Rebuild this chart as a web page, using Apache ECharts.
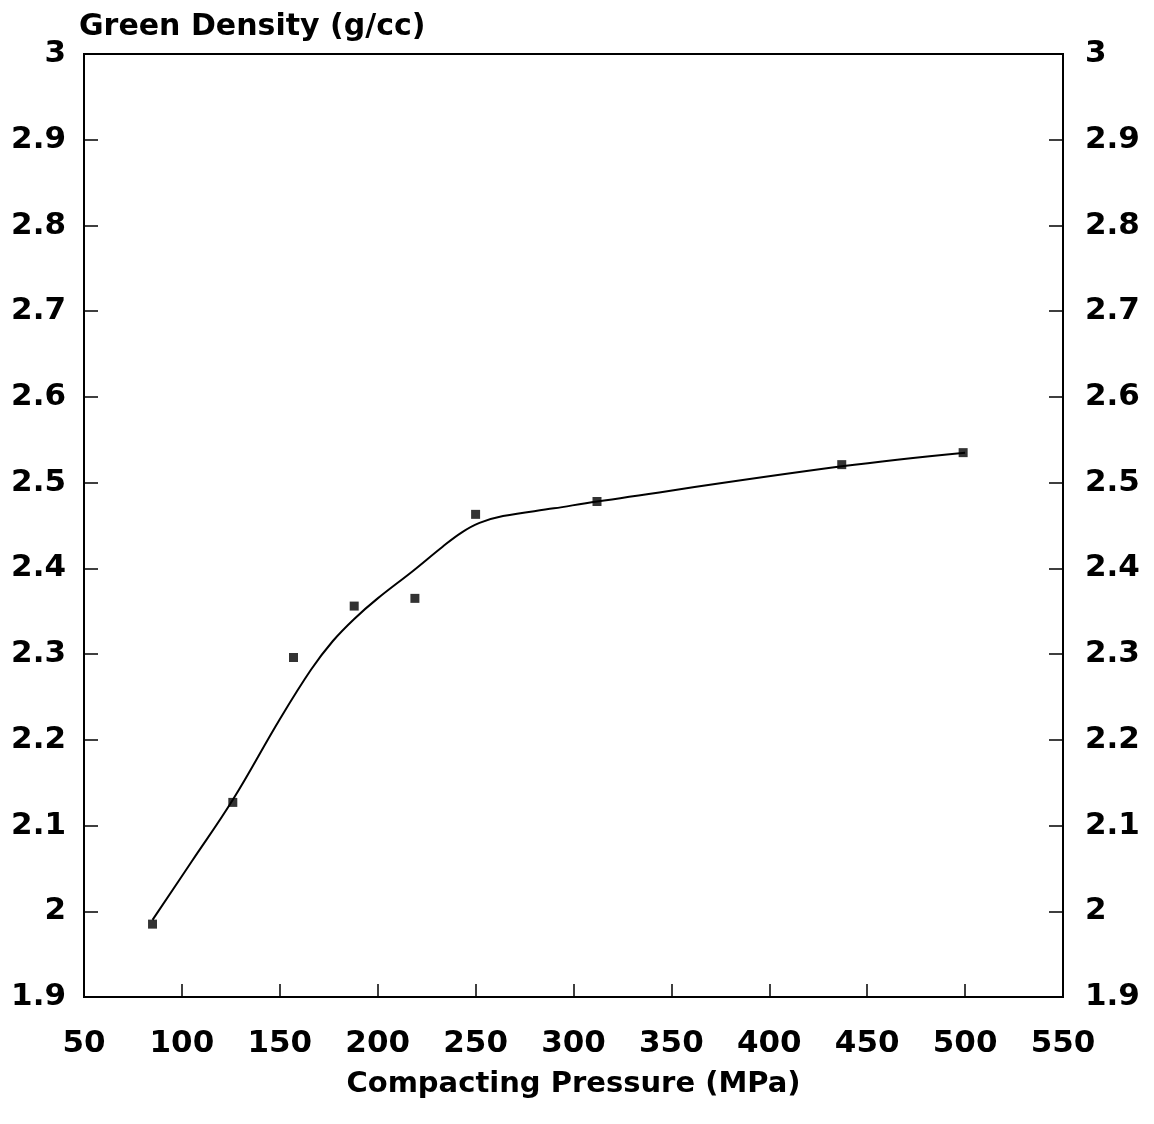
<!DOCTYPE html>
<html>
<head>
<meta charset="utf-8">
<script src="https://cdn.jsdelivr.net/npm/echarts@6/dist/echarts.min.js"></script>
<style>
html,body{margin:0;padding:0;background:#fff;}
#chart{width:1154px;height:1124px;}
</style>
</head>
<body>
<div id="chart"></div>
<script>
// Measured data points
const pressure = [85, 126, 157, 188, 219, 250, 312, 437, 499];
const density = [1.985, 2.127, 2.296, 2.356, 2.365, 2.463, 2.478, 2.521, 2.535];
// Fitted curve
const fitPressure = [85, 105, 126, 150, 166, 177, 188, 200, 218, 233, 243, 252, 264, 290, 312, 437, 500];
const fitDensity = [1.99, 2.058, 2.13, 2.224, 2.282, 2.315, 2.341, 2.365, 2.397, 2.425, 2.442, 2.453, 2.461, 2.470, 2.478, 2.519, 2.535];

const xTitle = 'Compacting Pressure (MPa)';
const yTitle = 'Green Density (g/cc)';

const chart = echarts.init(document.getElementById('chart'));
const FONT = 'DejaVu Sans';
const tickLabel = {color: '#000', fontFamily: FONT, fontWeight: 'bold', fontSize: 31};
const fmtY = v => String(+v.toFixed(1));

const yCommon = {
  type: 'value', min: 1.9, max: 3, interval: 0.1,
  axisLine: {show: true, lineStyle: {color: '#000', width: 2}},
  axisTick: {show: true, inside: true, length: 14, lineStyle: {color: '#000', width: 1.5}},
  splitLine: {show: false},
};

chart.setOption({
  backgroundColor: '#fff',
  animation: false,
  grid: {left: 84, right: 91, top: 54, bottom: 127, outerBoundsMode: 'none',
         show: true, borderColor: '#000', borderWidth: 2},
  xAxis: {
    type: 'value', min: 50, max: 550, interval: 50,
    name: xTitle, nameLocation: 'middle', nameGap: 73,
    nameTextStyle: {color: '#000', fontFamily: FONT, fontWeight: 'bold', fontSize: 29},
    axisLine: {show: true, lineStyle: {color: '#000', width: 2}},
    axisTick: {show: true, inside: true, length: 13, lineStyle: {color: '#000', width: 1.5}},
    axisLabel: Object.assign({margin: 31}, tickLabel),
    splitLine: {show: false}
  },
  yAxis: [
    Object.assign({}, yCommon, {
      position: 'left',
      name: yTitle, nameLocation: 'end', nameGap: 12,
      nameTextStyle: {color: '#000', fontFamily: FONT, fontWeight: 'bold', fontSize: 30, align: 'left', padding: [0, 0, 0, -5]},
      axisLabel: Object.assign({margin: 18, formatter: fmtY}, tickLabel)
    }),
    Object.assign({}, yCommon, {
      position: 'right',
      axisLabel: Object.assign({margin: 22, formatter: fmtY}, tickLabel)
    })
  ],
  series: [
    {
      type: 'line', name: 'fit',
      data: fitPressure.map((p, i) => [p, fitDensity[i]]),
      smooth: 0.4, showSymbol: false,
      lineStyle: {color: '#000', width: 2}
    },
    {
      type: 'scatter', name: 'measured',
      data: pressure.map((p, i) => [p, density[i]]),
      symbol: 'rect', symbolSize: 9,
      itemStyle: {color: '#000'}
    }
  ]
});
</script>
</body>
</html>
